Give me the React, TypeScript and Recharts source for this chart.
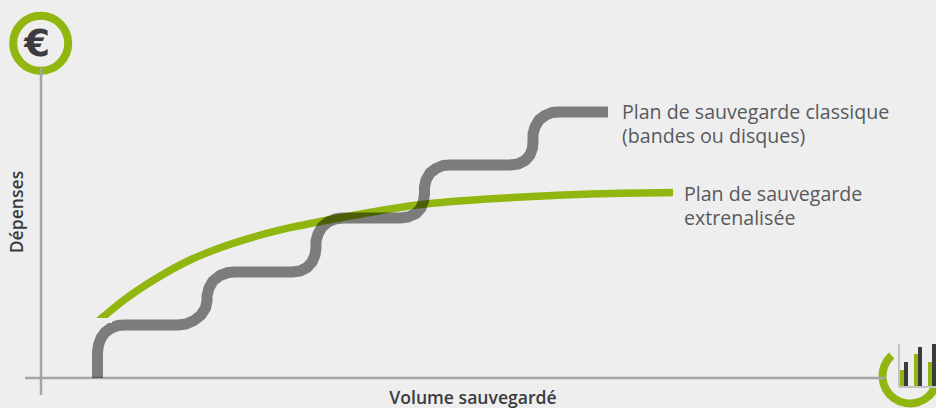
import React from "react";
import {
  Bar,
  BarChart,
  Line,
  LineChart,
  ReferenceLine,
  Sector,
  XAxis,
  YAxis,
} from "recharts";

const classicVolume = [
  56.5, 56.5, 57.5, 60, 64, 70, 77, 83, 137, 145, 153, 160, 164.5, 166, 166, 168, 172, 179, 187, 194,
  251, 259, 266, 271, 274, 275, 275, 277, 281, 287, 294, 301,
  359, 367, 375, 380, 382.5, 383.5, 383.5, 385, 389, 395, 402, 409,
  469, 477, 484, 489, 491.5, 492, 492, 494, 498, 504, 511, 518, 567,
];
const classicCost = [
  0, 26, 33, 40, 45.5, 50, 52.5, 53, 53, 54, 57.5, 63, 70, 77, 82, 90, 97, 102.5, 105.5, 106,
  106, 107, 110.5, 116, 123, 130, 137, 144, 151, 156, 159, 160,
  160, 161, 164.5, 170, 177, 184, 191, 198, 205, 209.5, 212.5, 213,
  213, 214, 217.5, 223, 230, 237, 244, 251, 258, 262.5, 265.5, 266, 266,
];

const externalVolume = [58, 82, 116, 149, 182, 216, 249, 282, 299, 376, 472, 579, 632];
const externalCost = [57.6, 77.3, 100, 118, 131.3, 142, 150.3, 157, 160.2, 173, 180.5, 184.7, 185.5];

const iconGroups = ["a", "b", "c"];
const iconGreen = [16, 32, 24];
const iconDark = [24, 39, 42];

const classicData = classicVolume.map((volume, i) => ({ volume, cost: classicCost[i] }));
const externalData = externalVolume.map((volume, i) => ({ volume, cost: externalCost[i] }));
const iconData = iconGroups.map((name, i) => ({ name, green: iconGreen[i], dark: iconDark[i] }));

const GREEN = "#91b610";
const AXIS = "#a5a5a5";
const TEXT = "#58595d";
const FONT = "'Open Sans', sans-serif";

export default function App() {
  return (
    <div
      style={{
        position: "fixed",
        left: 0,
        top: 0,
        width: 936,
        height: 408,
        overflow: "hidden",
        background: "#eeeeee",
      }}
    >
      <LineChart
        width={936}
        height={408}
        margin={{ top: 0, right: 0, bottom: 0, left: 0 }}
      >
        <XAxis type="number" dataKey="volume" domain={[-41, 895]} hide />
        <YAxis type="number" dataKey="cost" domain={[-30, 378]} hide />
        <ReferenceLine
          segment={[{ x: 0, y: -17 }, { x: 0, y: 310 }]}
          stroke={AXIS}
          strokeWidth={2.5}
        />
        <ReferenceLine
          segment={[{ x: -16, y: 0 }, { x: 845, y: 0 }]}
          stroke={AXIS}
          strokeWidth={2.5}
        />
        <Line
          data={externalData}
          dataKey="cost"
          type="monotone"
          stroke={GREEN}
          strokeWidth={7.5}
          dot={false}
          activeDot={false}
          isAnimationActive={false}
        />
        <Line
          data={classicData}
          dataKey="cost"
          type="linear"
          stroke="#000000"
          strokeOpacity={0.48}
          strokeWidth={11}
          strokeLinejoin="round"
          dot={false}
          activeDot={false}
          isAnimationActive={false}
        />
        <circle cx={40.7} cy={43.3} r={27.5} fill="#eeeeee" stroke={GREEN} strokeWidth={8} />
        <text x={37} y={56} textAnchor="middle" fontFamily="'DejaVu Sans', sans-serif" fontWeight={700} fontSize={37} fill="#3c3c40">
          €
        </text>
        <Sector cx={910} cy={376} innerRadius={23.5} outerRadius={31.5} startAngle={132} endAngle={338} fill={GREEN} />
        <text x={622} y={119} fontFamily={FONT} fontSize={19.6} fill={TEXT}>Plan de sauvegarde classique</text>
        <text x={622} y={143} fontFamily={FONT} fontSize={19.6} fill={TEXT}>(bandes ou disques)</text>
        <text x={684} y={200.5} fontFamily={FONT} fontSize={19.6} fill={TEXT}>Plan de sauvegarde</text>
        <text x={684} y={225} fontFamily={FONT} fontSize={19.6} fill={TEXT}>extrenalisée</text>
        <text x={473} y={403.5} textAnchor="middle" fontFamily={FONT} fontWeight={600} fontSize={17.6} fill="#3a3b3f">Volume sauvegardé</text>
        <text x={0} y={0} transform="translate(23 212) rotate(-90)" textAnchor="middle" fontFamily={FONT} fontWeight={600} fontSize={17.6} fill="#3a3b3f">Dépenses</text>
      </LineChart>
      {/* pale patch in the source image, it trims the foot of the green curve flat */}
      <div style={{ position: "absolute", left: 67, top: 318, width: 29, height: 10, background: "#efefef" }} />
      <div style={{ position: "absolute", left: 96, top: 318, width: 16, height: 5, background: "#eeeeee" }} />
      <div
        style={{
          position: "absolute",
          left: 898,
          top: 344,
          width: 38,
          height: 42,
          borderLeft: "2px solid #c4c4c4",
          borderBottom: "2px solid #c4c4c4",
        }}
      />
      <div style={{ position: "absolute", left: 897, top: 344 }}>
        <BarChart
          width={42}
          height={42}
          data={iconData}
          margin={{ top: 0, right: 0, bottom: 0, left: 0 }}
          barCategoryGap={3}
          barGap={0}
        >
          <XAxis dataKey="name" hide />
          <YAxis domain={[0, 42]} hide />
          <Bar dataKey="green" fill={GREEN} barSize={4} isAnimationActive={false} />
          <Bar dataKey="dark" fill="#3c3c40" barSize={4} isAnimationActive={false} />
        </BarChart>
      </div>
    </div>
  );
}
